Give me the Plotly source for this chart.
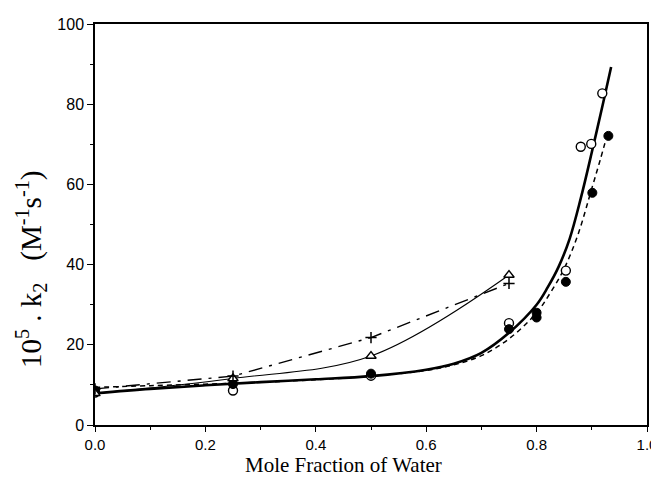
import plotly.graph_objects as go

# ---- data ----
# open circles (solid thick fit)
open_x = [0.0, 0.25, 0.5, 0.75, 0.853, 0.880, 0.899, 0.919]
open_y = [8.1, 8.6, 12.3, 25.4, 38.5, 69.4, 70.1, 82.7]
# filled circles (dashed fit)
fill_x = [0.0, 0.25, 0.5, 0.75, 0.80, 0.80, 0.853, 0.901, 0.930]
fill_y = [8.6, 10.2, 12.8, 23.9, 26.8, 28.0, 35.7, 57.9, 72.1]
# triangles (thin solid line)
tri_x = [0.0, 0.25, 0.5, 0.75]
tri_y = [7.9, 11.6, 17.2, 37.4]
# plus signs (dash-dot line)
plus_x = [0.0, 0.25, 0.5, 0.75]
plus_y = [9.0, 12.2, 21.8, 35.3]

# fitted curves
fit_open_x = [0.0, 0.1, 0.2, 0.3, 0.4, 0.5, 0.6, 0.65, 0.7, 0.75, 0.8, 0.82, 0.84, 0.86, 0.88, 0.9, 0.92, 0.935]
fit_open_y = [7.9, 9.0, 9.9, 10.7, 11.4, 12.2, 13.8, 15.3, 18.0, 23.0, 30.0, 34.3, 39.5, 46.5, 56.5, 68.0, 80.0, 89.3]
fit_fill_x = [0.0, 0.1, 0.25, 0.4, 0.5, 0.6, 0.65, 0.7, 0.75, 0.8, 0.825, 0.85, 0.875, 0.9, 0.915, 0.927]
fit_fill_y = [9.4, 9.8, 10.4, 11.3, 12.2, 13.6, 15.0, 17.3, 21.5, 28.0, 33.0, 39.0, 47.5, 59.0, 66.0, 71.9]

x_tickvals = [0.0, 0.2, 0.4, 0.6, 0.8, 1.0]
x_ticktext = ["0.0", "0.2", "0.4", "0.6", "0.8", "1.0"]
y_tickvals = [0, 20, 40, 60, 80, 100]
y_ticktext = ["0", "20", "40", "60", "80", "100"]

fig = go.Figure()

fig.add_trace(go.Scatter(x=fit_open_x, y=fit_open_y, mode="lines",
                         line=dict(color="black", width=2.6, shape="spline"),
                         hoverinfo="skip"))
fig.add_trace(go.Scatter(x=fit_fill_x, y=fit_fill_y, mode="lines",
                         line=dict(color="black", width=1.5, dash="5px,4px", shape="spline"),
                         hoverinfo="skip"))
fig.add_trace(go.Scatter(x=tri_x, y=tri_y, mode="lines",
                         line=dict(color="black", width=1.1, shape="spline")))
fig.add_trace(go.Scatter(x=plus_x, y=plus_y, mode="lines",
                         line=dict(color="black", width=1.4, dash="14px,7px,3px,7px")))

fig.add_trace(go.Scatter(x=open_x, y=open_y, mode="markers",
                         marker=dict(symbol="circle", size=9, color="white",
                                     line=dict(color="black", width=1.4))))
fig.add_trace(go.Scatter(x=fill_x, y=fill_y, mode="markers",
                         marker=dict(symbol="circle", size=9, color="black",
                                     line=dict(color="black", width=1))))
fig.add_trace(go.Scatter(x=tri_x, y=tri_y, mode="markers",
                         marker=dict(symbol="triangle-up", size=9, color="white",
                                     line=dict(color="black", width=1.4))))
fig.add_trace(go.Scatter(x=plus_x, y=plus_y, mode="markers",
                         marker=dict(symbol="cross-thin", size=8,
                                     line=dict(color="black", width=1.5))))

# page body has an 8px margin, so the figure is 651x471 and margins are shifted
fig.update_layout(
    width=651, height=471,
    margin=dict(l=87, r=12, t=16, b=54, autoexpand=False),
    paper_bgcolor="white", plot_bgcolor="white",
    showlegend=False,
    font=dict(family="Liberation Sans, Arial, sans-serif", color="black", size=15),
)
fig.update_xaxes(
    range=[0, 1], tickvals=x_tickvals, ticktext=x_ticktext,
    showline=True, linecolor="black", linewidth=1.5, mirror=True,
    ticks="outside", ticklen=5, tickwidth=1.3, tickcolor="black",
    minor=dict(dtick=0.1, ticks="outside", ticklen=3, tickcolor="black"),
    showgrid=False, zeroline=False, automargin=False,
    tickfont=dict(size=15),
)
fig.update_yaxes(
    range=[0, 100], tickvals=y_tickvals, ticktext=y_ticktext,
    showline=True, linecolor="black", linewidth=1.5, mirror=True,
    ticks="outside", ticklen=6, tickwidth=1.3, tickcolor="black",
    minor=dict(dtick=10, ticks="outside", ticklen=3, tickcolor="black"),
    showgrid=False, zeroline=False, automargin=False,
    tickfont=dict(size=16),
)
fig.add_annotation(
    xref="paper", yref="paper", x=0.451, y=-0.1,
    text="Mole Fraction of Water",
    showarrow=False, xanchor="center", yanchor="middle",
    font=dict(family="Liberation Serif, Times New Roman, serif", size=21, color="black"),
)
fig.add_annotation(
    xref="paper", yref="paper", x=-0.117, y=0.39,
    text="10<sup>5</sup> . k<sub>2</sub>&nbsp;&nbsp;&nbsp;(M<sup>-1</sup>s<sup>-1</sup>)",
    textangle=-90, showarrow=False, xanchor="center", yanchor="middle",
    font=dict(family="Liberation Serif, Times New Roman, serif", size=29, color="black"),
)

fig.write_html("out.html")
